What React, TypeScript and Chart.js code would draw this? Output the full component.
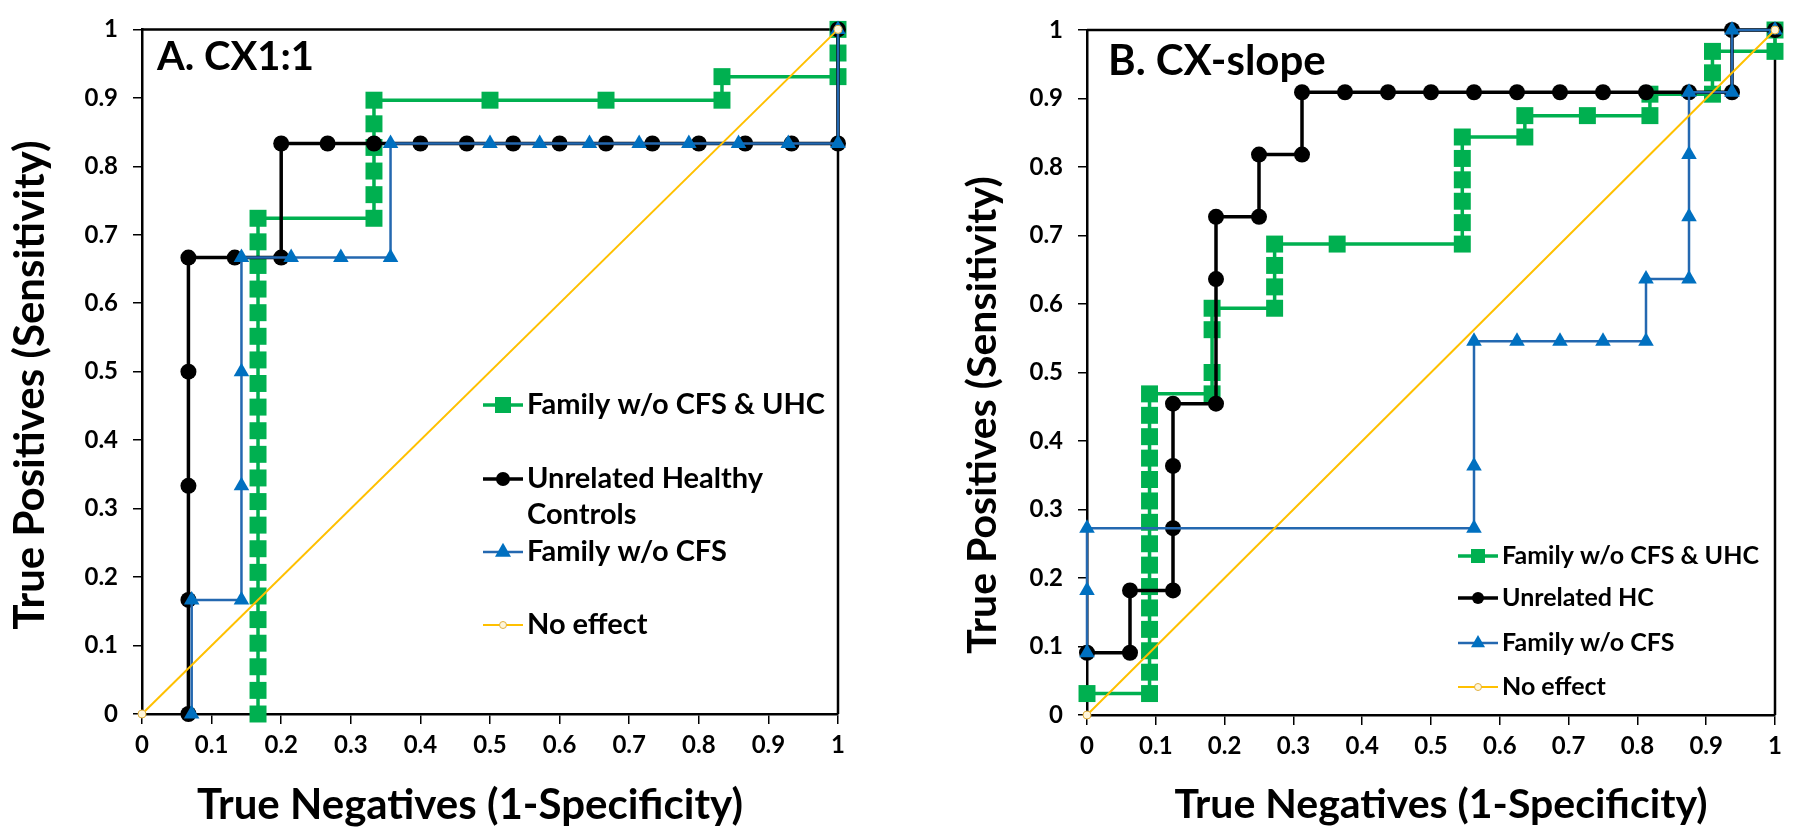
import React, { useEffect, useRef } from "react";
import { Chart, registerables } from "chart.js";

Chart.register(...registerables);

const FONT = "Lato, 'Open Sans', 'DejaVu Sans', sans-serif";

// ---------- text ----------
const TICK_LABELS = ["0", "0.1", "0.2", "0.3", "0.4", "0.5", "0.6", "0.7", "0.8", "0.9", "1"];
const X_TITLE = "True Negatives (1-Specificity)";
const Y_TITLE = "True Positives (Sensitivity)";
const PANEL_A = "A. CX1:1";
const PANEL_B = "B. CX-slope";
const A_NAMES = ["Family w/o CFS & UHC", "Unrelated Healthy Controls", "Family w/o CFS", "No effect"];
const B_NAMES = ["Family w/o CFS & UHC", "Unrelated HC", "Family w/o CFS", "No effect"];

// ---------- panel A data ----------
const A_FAM_UHC_X = [
  0.1667, 0.1667, 0.1667, 0.1667, 0.1667, 0.1667, 0.1667, 0.1667, 0.1667, 0.1667, 0.1667,
  0.1667, 0.1667, 0.1667, 0.1667, 0.1667, 0.1667, 0.1667, 0.1667, 0.1667, 0.1667, 0.1667,
  0.3333, 0.3333, 0.3333, 0.3333, 0.3333, 0.3333, 0.5, 0.6667, 0.8333, 0.8333, 1, 1, 1,
];
const A_FAM_UHC_Y = [
  0, 0.0345, 0.069, 0.1034, 0.1379, 0.1724, 0.2069, 0.2414, 0.2759, 0.3103, 0.3448,
  0.3793, 0.4138, 0.4483, 0.4828, 0.5172, 0.5517, 0.5862, 0.6207, 0.6552, 0.6897, 0.7241,
  0.7241, 0.7586, 0.7931, 0.8276, 0.8621, 0.8966, 0.8966, 0.8966, 0.8966, 0.931, 0.931, 0.9655, 1,
];
const A_UHC_X = [
  0.0667, 0.0667, 0.0667, 0.0667, 0.0667, 0.1333, 0.2, 0.2, 0.2667, 0.3333, 0.4, 0.4667,
  0.5333, 0.6, 0.6667, 0.7333, 0.8, 0.8667, 0.9333, 1, 1,
];
const A_UHC_Y = [
  0, 0.1667, 0.3333, 0.5, 0.6667, 0.6667, 0.6667, 0.8333, 0.8333, 0.8333, 0.8333, 0.8333,
  0.8333, 0.8333, 0.8333, 0.8333, 0.8333, 0.8333, 0.8333, 0.8333, 1,
];
const A_FAM_X = [
  0.0714, 0.0714, 0.1429, 0.1429, 0.1429, 0.1429, 0.2143, 0.2857, 0.3571, 0.3571, 0.5,
  0.5714, 0.6429, 0.7143, 0.7857, 0.8571, 0.9286, 1, 1,
];
const A_FAM_Y = [
  0, 0.1667, 0.1667, 0.3333, 0.5, 0.6667, 0.6667, 0.6667, 0.6667, 0.8333, 0.8333,
  0.8333, 0.8333, 0.8333, 0.8333, 0.8333, 0.8333, 0.8333, 1,
];
const NO_EFFECT_X = [0, 1];
const NO_EFFECT_Y = [0, 1];

// ---------- panel B data ----------
const B_FAM_UHC_X = [
  0, 0.0909, 0.0909, 0.0909, 0.0909, 0.0909, 0.0909, 0.0909, 0.0909, 0.0909, 0.0909, 0.0909,
  0.0909, 0.0909, 0.0909, 0.0909, 0.1818, 0.1818, 0.1818, 0.1818, 0.2727, 0.2727, 0.2727,
  0.2727, 0.3636, 0.5455, 0.5455, 0.5455, 0.5455, 0.5455, 0.5455, 0.6364, 0.6364, 0.7273,
  0.8182, 0.8182, 0.9091, 0.9091, 0.9091, 1, 1,
];
const B_FAM_UHC_Y = [
  0.0313, 0.0313, 0.0625, 0.0938, 0.125, 0.1563, 0.1875, 0.2188, 0.25, 0.2813, 0.3125, 0.3438,
  0.375, 0.4063, 0.4375, 0.4688, 0.4688, 0.5, 0.5625, 0.5938, 0.5938, 0.625, 0.6563,
  0.6875, 0.6875, 0.6875, 0.7188, 0.75, 0.7813, 0.8125, 0.8438, 0.8438, 0.875, 0.875,
  0.875, 0.9063, 0.9063, 0.9375, 0.9688, 0.9688, 1,
];
const B_UHC_X = [
  0, 0.0625, 0.0625, 0.125, 0.125, 0.125, 0.125, 0.1875, 0.1875, 0.1875, 0.25, 0.25, 0.3125,
  0.3125, 0.375, 0.4375, 0.5, 0.5625, 0.625, 0.6875, 0.75, 0.8125, 0.875, 0.9375, 0.9375, 1,
];
const B_UHC_Y = [
  0.0909, 0.0909, 0.1818, 0.1818, 0.2727, 0.3636, 0.4545, 0.4545, 0.6364, 0.7273, 0.7273,
  0.8182, 0.8182, 0.9091, 0.9091, 0.9091, 0.9091, 0.9091, 0.9091, 0.9091, 0.9091, 0.9091,
  0.9091, 0.9091, 1, 1,
];
const B_FAM_X = [
  0, 0, 0, 0.5625, 0.5625, 0.5625, 0.625, 0.6875, 0.75, 0.8125, 0.8125, 0.875, 0.875, 0.875,
  0.875, 0.9375, 0.9375, 1,
];
const B_FAM_Y = [
  0.0909, 0.1818, 0.2727, 0.2727, 0.3636, 0.5455, 0.5455, 0.5455, 0.5455, 0.5455, 0.6364,
  0.6364, 0.7273, 0.8182, 0.9091, 0.9091, 1, 1,
];

// ---------- styles ----------
const GREEN = "#00B050";
const BLACK = "#000000";
const BLUE = "#0070C0";
const BLUE_LINE = "#2468B0";
const YELLOW = "#FFC000";

type Legend = {
  sampleX: number;
  sampleLen: number;
  textX: number;
  rows: number[];
  lineH: number;
  size: number;
  wrap: number;
  mk: number;
};

type PanelCfg = {
  offsetX: number;
  area: { left: number; right: number; top: number; bottom: number };
  panel: string;
  panelX: number;
  panelY: number;
  panelSize: number;
  xTitle: { x: number; y: number };
  yTitle: { x: number; y: number };
  titleSize: number;
  tickSize: number;
  legend: Legend;
  names: string[];
  series: { x: number[]; y: number[] }[];
};

const W = 900;
const H = 836;

const PANELS: PanelCfg[] = [
  {
    offsetX: 0,
    area: { left: 142, right: 838, top: 24, bottom: 714 },
    panel: PANEL_A,
    panelX: 157,
    panelY: 70,
    panelSize: 40,
    xTitle: { x: 470, y: 805 },
    yTitle: { x: 30, y: 385 },
    titleSize: 42,
    tickSize: 24,
    legend: { sampleX: 483, sampleLen: 40, textX: 527, rows: [405, 479, 552, 625], lineH: 36, size: 29, wrap: 300, mk: 8 },
    names: A_NAMES,
    series: [
      { x: A_FAM_UHC_X, y: A_FAM_UHC_Y },
      { x: A_UHC_X, y: A_UHC_Y },
      { x: A_FAM_X, y: A_FAM_Y },
      { x: NO_EFFECT_X, y: NO_EFFECT_Y },
    ],
  },
  {
    offsetX: 900,
    area: { left: 1087, right: 1775, top: 30, bottom: 715 },
    panel: PANEL_B,
    panelX: 1108,
    panelY: 75,
    panelSize: 42,
    xTitle: { x: 1441, y: 805 },
    yTitle: { x: 983, y: 415 },
    titleSize: 41,
    tickSize: 24,
    legend: { sampleX: 1458, sampleLen: 40, textX: 1502, rows: [556, 598, 643, 687], lineH: 36, size: 25, wrap: 400, mk: 7 },
    names: B_NAMES,
    series: [
      { x: B_FAM_UHC_X, y: B_FAM_UHC_Y },
      { x: B_UHC_X, y: B_UHC_Y },
      { x: B_FAM_X, y: B_FAM_Y },
      { x: NO_EFFECT_X, y: NO_EFFECT_Y },
    ],
  },
];

const SERIES_STYLE = [
  { line: GREEN, fill: GREEN, width: 3.5, point: "rect", radius: 12, order: 3 },
  { line: BLACK, fill: BLACK, width: 3.5, point: "circle", radius: 8, order: 2 },
  { line: BLUE_LINE, fill: BLUE, width: 2.5, point: "triangle", radius: 9, order: 1 },
  { line: YELLOW, fill: "#FFF6DA", width: 2, point: "circle", radius: 4, order: 0 },
];

function drawMarker(ctx: CanvasRenderingContext2D, kind: string, x: number, y: number, r: number, fill: string, stroke: string, open: boolean) {
  ctx.beginPath();
  if (kind === "rect") {
    ctx.rect(x - r, y - r, 2 * r, 2 * r);
  } else if (kind === "triangle") {
    ctx.moveTo(x, y - r * 1.15);
    ctx.lineTo(x + r, y + r * 0.6);
    ctx.lineTo(x - r, y + r * 0.6);
    ctx.closePath();
  } else {
    ctx.arc(x, y, r, 0, Math.PI * 2);
  }
  ctx.fillStyle = fill;
  ctx.fill();
  if (open) {
    ctx.strokeStyle = stroke;
    ctx.lineWidth = 1;
    ctx.stroke();
  }
}

function wrapText(ctx: CanvasRenderingContext2D, text: string, max: number): string[] {
  const words = text.split(" ");
  const lines: string[] = [];
  let cur = "";
  for (const w of words) {
    const t = cur ? cur + " " + w : w;
    if (ctx.measureText(t).width > max && cur) {
      lines.push(cur);
      cur = w;
    } else cur = t;
  }
  if (cur) lines.push(cur);
  return lines;
}

const overlayPlugin = {
  id: "overlay",
  beforeDatasetsDraw(chart: any) {
    const { ctx, chartArea: ca } = chart;
    ctx.save();
    ctx.strokeStyle = "#000";
    ctx.lineWidth = 2.5;
    ctx.beginPath();
    ctx.moveTo(ca.left, ca.top);
    ctx.lineTo(ca.right, ca.top);
    ctx.lineTo(ca.right, ca.bottom);
    ctx.stroke();
    ctx.restore();
  },
  afterDraw(chart: any, _a: any, opts: any) {
    const cfg: PanelCfg = opts.cfg;
    const ctx: CanvasRenderingContext2D = chart.ctx;
    const ox = cfg.offsetX;
    ctx.save();
    ctx.fillStyle = "#000";
    // panel label
    ctx.font = `bold ${cfg.panelSize}px ${FONT}`;
    ctx.textAlign = "left";
    ctx.textBaseline = "alphabetic";
    ctx.fillText(cfg.panel, cfg.panelX - ox, cfg.panelY);
    // axis titles
    ctx.font = `bold ${cfg.titleSize}px ${FONT}`;
    ctx.textAlign = "center";
    ctx.textBaseline = "middle";
    ctx.fillText(X_TITLE, cfg.xTitle.x - ox, cfg.xTitle.y);
    ctx.save();
    ctx.translate(cfg.yTitle.x - ox, cfg.yTitle.y);
    ctx.rotate(-Math.PI / 2);
    ctx.fillText(Y_TITLE, 0, 0);
    ctx.restore();
    // legend
    const lg = cfg.legend;
    ctx.font = `bold ${lg.size}px ${FONT}`;
    ctx.textAlign = "left";
    ctx.textBaseline = "middle";
    chart.data.datasets.forEach((ds: any, i: number) => {
      const st = SERIES_STYLE[i];
      const y = lg.rows[i];
      const x0 = lg.sampleX - ox;
      ctx.strokeStyle = st.line;
      ctx.lineWidth = st.width;
      ctx.beginPath();
      ctx.moveTo(x0, y);
      ctx.lineTo(x0 + lg.sampleLen, y);
      ctx.stroke();
      const open = i === 3;
      const r = open ? 3.5 : st.point === "circle" ? lg.mk - 1 : lg.mk;
      drawMarker(ctx, st.point, x0 + lg.sampleLen / 2, y, r, st.fill, "#E0B040", open);
      ctx.fillStyle = "#000";
      const lines = wrapText(ctx, ds.label, lg.wrap);
      lines.forEach((ln, k) => ctx.fillText(ln, lg.textX - ox, y + k * lg.lineH));
    });
    ctx.restore();
  },
};

function buildConfig(cfg: PanelCfg): any {
  const a = cfg.area;
  const tickFont = { family: FONT, size: cfg.tickSize, weight: "bold" as const };
  return {
    type: "scatter",
    data: {
      datasets: cfg.series.map((s, i) => {
        const st = SERIES_STYLE[i];
        return {
          label: cfg.names[i],
          data: s.x.map((x, j) => ({ x, y: s.y[j] })),
          showLine: true,
          borderColor: st.line,
          backgroundColor: st.fill,
          borderWidth: st.width,
          pointStyle: st.point,
          pointRadius: st.radius,
          pointHoverRadius: st.radius,
          pointBackgroundColor: st.fill,
          pointBorderColor: i === 3 ? "#E0B040" : st.fill,
          pointBorderWidth: i === 3 ? 1 : 0,
          order: st.order,
          clip: false,
          tension: 0,
        };
      }),
    },
    options: {
      responsive: false,
      animation: false,
      devicePixelRatio: 1,
      layout: { padding: { left: 0, right: W - (a.right - cfg.offsetX), top: a.top, bottom: 0 } },
      plugins: {
        legend: { display: false },
        tooltip: { enabled: false },
        overlay: { cfg },
      },
      scales: {
        x: {
          type: "linear",
          min: 0,
          max: 1,
          border: { display: true, color: "#000", width: 2.5 },
          grid: { display: true, drawOnChartArea: false, drawTicks: true, tickLength: 10, color: "#000", lineWidth: 1.5 },
          ticks: {
            stepSize: 0.1,
            autoSkip: false,
            maxRotation: 0,
            padding: 7,
            color: "#000",
            font: tickFont,
            callback: (v: any) => TICK_LABELS[Math.round(Number(v) * 10)],
          },
          afterFit: (s: any) => {
            s.height = H - a.bottom;
          },
        },
        y: {
          type: "linear",
          min: 0,
          max: 1,
          border: { display: true, color: "#000", width: 2.5 },
          grid: { display: true, drawOnChartArea: false, drawTicks: true, tickLength: 9, color: "#000", lineWidth: 1.5 },
          ticks: {
            stepSize: 0.1,
            autoSkip: false,
            padding: 15,
            color: "#000",
            font: tickFont,
            callback: (v: any) => TICK_LABELS[Math.round(Number(v) * 10)],
          },
          afterFit: (s: any) => {
            s.width = a.left - cfg.offsetX;
          },
        },
      },
    },
    plugins: [overlayPlugin],
  };
}

function RocPanel({ cfg }: { cfg: PanelCfg }) {
  const ref = useRef<HTMLCanvasElement | null>(null);
  useEffect(() => {
    if (!ref.current) return;
    const chart = new Chart(ref.current, buildConfig(cfg));
    return () => chart.destroy();
  }, [cfg]);
  return (
    <canvas
      ref={ref}
      width={W}
      height={H}
      style={{ position: "absolute", left: cfg.offsetX, top: 0, width: W, height: H }}
    />
  );
}

export default function App() {
  return (
    <div style={{ position: "absolute", left: 0, top: 0, width: 1800, height: 836, background: "#fff", overflow: "hidden" }}>
      {PANELS.map((p) => (
        <RocPanel key={p.panel} cfg={p} />
      ))}
    </div>
  );
}
